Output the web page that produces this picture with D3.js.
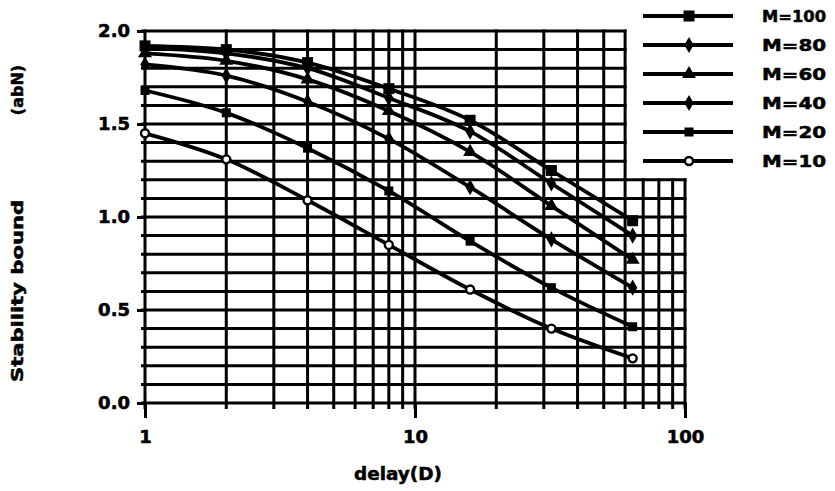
<!DOCTYPE html>
<html>
<head>
<meta charset="utf-8">
<script src="https://cdn.jsdelivr.net/npm/d3@7/dist/d3.min.js"></script>
<style>
  html, body { margin: 0; padding: 0; background: #fff; }
  svg { display: block; }
  text { font-family: "DejaVu Sans", "Liberation Sans", sans-serif; font-weight: bold; fill: #000; }
</style>
</head>
<body>
<svg id="chart" width="835" height="491"></svg>
<script>
// Delay values (log axis) at which each stability bound was computed
const delays = [1, 2, 4, 8, 16, 32, 64];

// Stability bound (abN) for each M
const seriesNames = ["M=100", "M=80", "M=60", "M=40", "M=20", "M=10"];
const m100 = [1.92, 1.90, 1.83, 1.69, 1.52, 1.25, 0.98];
const m80  = [1.91, 1.88, 1.80, 1.64, 1.46, 1.18, 0.90];
const m60  = [1.88, 1.84, 1.74, 1.57, 1.35, 1.06, 0.77];
const m40  = [1.82, 1.76, 1.62, 1.42, 1.16, 0.88, 0.62];
const m20  = [1.68, 1.56, 1.37, 1.14, 0.87, 0.62, 0.41];
const m10  = [1.45, 1.31, 1.09, 0.85, 0.61, 0.40, 0.24];
const seriesValues = [m100, m80, m60, m40, m20, m10];
const seriesMarkers = ["bigsquare", "diamond", "triangle", "diamond", "square", "opencircle"];

// Axis ticks and grid
const xTickLabels = [1, 10, 100];
const yTickLabels = [0, 0.5, 1.0, 1.5, 2.0];
const xGrid = [1, 2, 3, 4, 5, 6, 7, 8, 9, 10, 20, 30, 40, 50, 60, 70, 80, 90, 100];
const yGrid = [0, 0.1, 0.2, 0.3, 0.4, 0.5, 0.6, 0.7, 0.8, 0.9, 1.0,
               1.1, 1.2, 1.3, 1.4, 1.5, 1.6, 1.7, 1.8, 1.9, 2.0];
// the grid is cut back on the upper right to leave room for the key
const gridCutX = 60;
const gridCutY = 1.2;

const svg = d3.select("#chart");
const x = d3.scaleLog().domain([1, 100]).range([145, 685]);
const y = d3.scaleLinear().domain([0, 2]).range([403, 31]);

const gridW = 3;
const lineW = 3.8;
const g = svg.append("g");

// horizontal grid lines
g.selectAll("line.hg").data(yGrid).enter().append("line")
  .attr("x1", x(1) - 4)
  .attr("x2", d => (d <= gridCutY + 1e-9 ? x(100) : x(gridCutX)) + gridW / 2)
  .attr("y1", d => y(d)).attr("y2", d => y(d))
  .attr("stroke", "#000").attr("stroke-width", gridW);

// vertical grid lines
g.selectAll("line.vg").data(xGrid).enter().append("line")
  .attr("x1", d => x(d)).attr("x2", d => x(d))
  .attr("y1", y(0) + 6)
  .attr("y2", d => (d > gridCutX ? y(gridCutY) : y(2)) - gridW / 2)
  .attr("stroke", "#000").attr("stroke-width", gridW);

// axes: major ticks and labels
const yAxis = d3.axisLeft(y).tickValues(yTickLabels)
  .tickFormat(d3.format(".1f")).tickSize(8).tickPadding(7);
const ya = svg.append("g").attr("transform", `translate(${x(1)},0)`).call(yAxis);
const xAxis = d3.axisBottom(x).tickValues(xTickLabels)
  .tickFormat(d3.format("d")).tickSize(15).tickPadding(12);
const xa = svg.append("g").attr("transform", `translate(0,${y(0)})`).call(xAxis);
[ya, xa].forEach(a => {
  a.select(".domain").remove();
  a.selectAll(".tick line").attr("stroke", "#000").attr("stroke-width", gridW);
  a.selectAll(".tick text").style("font-size", "18px").attr("fill", "#000")
    .attr("stroke", "#000").attr("stroke-width", 0.6);
});

// marker shapes
function drawMarker(sel, type, cx, cy) {
  if (type === "bigsquare" || type === "square") {
    const s = type === "bigsquare" ? 11 : 9;
    sel.append("rect").attr("x", cx - s / 2).attr("y", cy - s / 2)
      .attr("width", s).attr("height", s).attr("fill", "#000");
  } else if (type === "diamond") {
    sel.append("path").attr("d", d3.symbol(d3.symbolDiamond, 75)())
      .attr("transform", `translate(${cx},${cy})`).attr("fill", "#000");
  } else if (type === "triangle") {
    sel.append("path").attr("d", d3.symbol(d3.symbolTriangle, 85)())
      .attr("transform", `translate(${cx},${cy})`).attr("fill", "#000");
  } else {
    sel.append("circle").attr("cx", cx).attr("cy", cy).attr("r", 4)
      .attr("fill", "#fff").attr("stroke", "#000").attr("stroke-width", 2.4);
  }
}

// series lines
const line = d3.line()
  .x((d, i) => x(delays[i]))
  .y(d => y(d))
  .curve(d3.curveMonotoneX);

const series = svg.append("g");
seriesValues.forEach((vals, k) => {
  series.append("path").datum(vals)
    .attr("d", line)
    .attr("fill", "none").attr("stroke", "#000")
    .attr("stroke-width", lineW).attr("stroke-linejoin", "round");
});
seriesValues.forEach((vals, k) => {
  const mg = series.append("g");
  vals.forEach((v, i) => drawMarker(mg, seriesMarkers[k], x(delays[i]), y(v)));
});

// key
const key = svg.append("g");
seriesNames.forEach((name, k) => {
  const ky = 16 + k * 29;
  key.append("line").attr("x1", 643).attr("x2", 733).attr("y1", ky).attr("y2", ky)
    .attr("stroke", "#000").attr("stroke-width", lineW);
  drawMarker(key, seriesMarkers[k], 689, ky);
  key.append("text").attr("x", 762).attr("y", ky + 6)
    .style("font-size", "16px").attr("stroke", "#000").attr("stroke-width", 0.5)
    .attr("textLength", 64).attr("lengthAdjust", "spacingAndGlyphs")
    .text(name);
});

// axis titles
svg.append("text").attr("x", 398).attr("y", 480)
  .attr("text-anchor", "middle").style("font-size", "17px")
  .attr("stroke", "#000").attr("stroke-width", 0.5)
  .attr("textLength", 88).attr("lengthAdjust", "spacingAndGlyphs")
  .text("delay(D)");

svg.append("text")
  .attr("transform", "translate(23,291) rotate(-90)")
  .attr("text-anchor", "middle").style("font-size", "16px")
  .attr("stroke", "#000").attr("stroke-width", 0.5)
  .attr("textLength", 182).attr("lengthAdjust", "spacingAndGlyphs")
  .text("Stability bound");
svg.append("text")
  .attr("transform", "translate(23,90) rotate(-90)")
  .attr("text-anchor", "middle").style("font-size", "16px")
  .attr("stroke", "#000").attr("stroke-width", 0.5)
  .text("(abN)");
</script>
</body>
</html>
